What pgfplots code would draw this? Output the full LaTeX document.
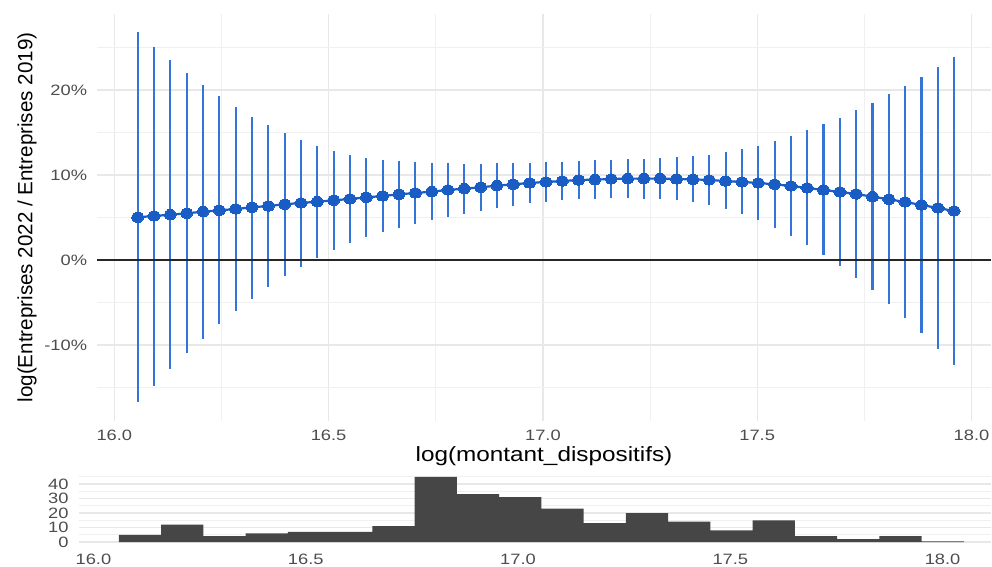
\documentclass[border=0pt]{standalone}
\usepackage{fontspec}
\setmainfont{Liberation Sans}
\usepackage{graphicx}
\usepackage{pgfplots}
\usepackage{pgfplotstable}
\pgfplotsset{compat=1.18}
\definecolor{dotblue}{RGB}{24,92,196}
\definecolor{barblue}{RGB}{52,116,214}
\definecolor{gridc}{RGB}{232,232,232}
\definecolor{gridm}{RGB}{240,240,240}
\definecolor{tickc}{RGB}{77,77,77}
\definecolor{histc}{RGB}{70,70,70}
\newcommand{\sx}[1]{\scalebox{1.22}[1]{#1}}
\newcommand{\sxx}[1]{\scalebox{1.18}[1]{#1}}

\pgfplotstableread{
x y lo hi
16.0546 5.02 -16.75 26.78
16.0927 5.18 -14.78 25.10
16.1308 5.33 -12.82 23.49
16.1689 5.49 -10.98 22.00
16.2070 5.69 -9.25 20.55
16.2451 5.84 -7.57 19.25
16.2832 6.00 -6.00 18.00
16.3213 6.20 -4.55 16.86
16.3594 6.35 -3.22 15.84
16.3975 6.55 -1.92 14.94
16.4356 6.71 -0.78 14.12
16.4737 6.86 0.27 13.45
16.5118 7.02 1.14 12.82
16.5499 7.18 1.96 12.35
16.5880 7.37 2.67 12.04
16.6261 7.53 3.29 11.76
16.6642 7.73 3.80 11.61
16.7023 7.88 4.27 11.49
16.7404 8.04 4.71 11.41
16.7785 8.24 5.06 11.37
16.8166 8.39 5.45 11.33
16.8547 8.55 5.80 11.33
16.8928 8.75 6.12 11.37
16.9309 8.90 6.39 11.41
16.9690 9.06 6.67 11.41
17.0071 9.18 6.86 11.49
17.0452 9.29 7.02 11.53
17.0833 9.41 7.14 11.61
17.1214 9.45 7.18 11.73
17.1595 9.53 7.25 11.80
17.1976 9.57 7.25 11.84
17.2357 9.57 7.22 11.92
17.2738 9.57 7.14 11.96
17.3119 9.53 7.02 12.08
17.3500 9.49 6.78 12.24
17.3881 9.41 6.43 12.39
17.4262 9.29 5.96 12.67
17.4643 9.18 5.37 13.02
17.5024 9.06 4.67 13.45
17.5405 8.90 3.80 13.96
17.5786 8.71 2.86 14.59
17.6167 8.47 1.80 15.25
17.6548 8.24 0.59 15.96
17.6929 8.00 -0.71 16.75
17.7310 7.76 -2.08 17.61
17.7691 7.45 -3.57 18.51
17.8072 7.14 -5.14 19.49
17.8453 6.82 -6.82 20.47
17.8834 6.47 -8.59 21.57
17.9215 6.12 -10.43 22.71
17.9596 5.76 -12.39 23.88
}\est

\begin{document}
\begin{tikzpicture}
\useasboundingbox (0,0) rectangle (496pt,283.5pt);
\begin{axis}[
  name=top, at={(48.5pt,73pt)}, anchor=south west,
  scale only axis, width=447pt, height=203.5pt,
  xmin=15.9596, xmax=18.0455, ymin=-18.94, ymax=28.94,
  axis line style={draw=none},
  major tick length=0pt, minor tick length=0pt,
  xtick={16,16.5,17,17.5,18},
  xticklabels={\sx{16.0},\sx{16.5},\sx{17.0},\sx{17.5},\sx{18.0}},
  minor xtick={16.25,16.75,17.25,17.75},
  ytick={-10,0,10,20},
  yticklabels={\sx{-10\%},\sx{0\%},\sx{10\%},\sx{20\%}},
  minor ytick={-15,-5,5,15,25},
  grid=both,
  major grid style={gridc, line width=0.6pt},
  minor grid style={gridm, line width=0.45pt},
  tick label style={font=\fontsize{7.5}{9}\selectfont, text=tickc},
  yticklabel style={anchor=east, inner sep=0pt, xshift=-4.75pt},
  xticklabel style={anchor=north, inner sep=0pt, yshift=-4.5pt},
  xlabel={\sxx{log(montant\_dispositifs)}},
  xlabel style={at={(axis description cs:0.5,0)}, anchor=north, inner sep=0pt, yshift=-12.5pt, font=\fontsize{10.3}{12}\selectfont},
  ylabel={log(Entreprises 2022 / Entreprises 2019)},
  ylabel style={at={(axis description cs:-0.0783,0.5)}, anchor=center, inner sep=0pt, font=\fontsize{10.3}{12}\selectfont},
]
\addplot[only marks, mark=none,
  error bars/.cd, y dir=both, y explicit, error mark=none,
  error bar style={barblue, line width=1.05pt}]
  table[x=x, y=y, y error plus expr=\thisrow{hi}-\thisrow{y}, y error minus expr=\thisrow{y}-\thisrow{lo}] {\est};
\addplot[dotblue, line width=1.1pt, mark=*, mark size=2.55pt,
  mark options={xscale=1.22, fill=dotblue, draw=dotblue, line width=0pt}]
  table[x=x, y=y] {\est};
\draw[black!85, line width=0.7pt] (axis cs:15.9596,0) -- (axis cs:18.0455,0);
\end{axis}

\begin{axis}[
  name=hist, at={(39.5pt,10.85pt)}, anchor=south west,
  scale only axis, width=456pt, height=35.9pt,
  xmin=15.966, xmax=18.114, ymin=-2.25, ymax=47.25,
  axis line style={draw=none},
  major tick length=0pt, minor tick length=0pt,
  xtick={16,16.5,17,17.5,18},
  xticklabels={\sx{16.0},\sx{16.5},\sx{17.0},\sx{17.5},\sx{18.0}},
  ytick={0,10,20,30,40},
  yticklabels={\sx{0},\sx{10},\sx{20},\sx{30},\sx{40}},
  minor ytick={5,15,25,35,45},
  ymajorgrids, yminorgrids,
  major grid style={gridc, line width=0.6pt},
  minor grid style={gridm, line width=0.45pt},
  tick label style={font=\fontsize{7.5}{9}\selectfont, text=tickc},
  yticklabel style={anchor=east, inner sep=0pt, xshift=-5pt},
  xticklabel style={anchor=north, inner sep=0pt, yshift=-4pt},
]
\addplot[ybar interval, fill=histc, draw=none] coordinates {
(16.0600,5) (16.1595,12) (16.2590,4) (16.3585,6) (16.4580,7)
(16.5575,7) (16.6570,11) (16.7565,45) (16.8560,33) (16.9555,31)
(17.0550,23) (17.1545,13) (17.2540,20) (17.3535,14) (17.4530,8)
(17.5525,15) (17.6520,4) (17.7515,2) (17.8510,4) (17.9505,0.4)
(18.0500,0.4)};
\end{axis}
\end{tikzpicture}
\end{document}
